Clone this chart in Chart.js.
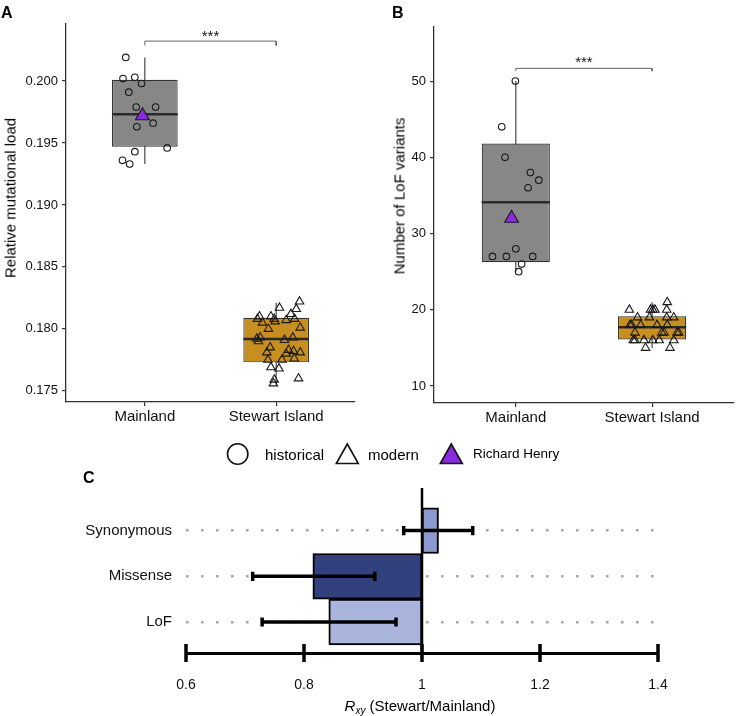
<!DOCTYPE html>
<html><head><meta charset="utf-8">
<script src="https://cdn.jsdelivr.net/npm/chart.js@4.4.1/dist/chart.umd.min.js"></script>
<style>
html,body{margin:0;padding:0;background:#fff;}
body{width:743px;height:716px;position:relative;overflow:hidden;font-family:"Liberation Sans",Arial,Helvetica,sans-serif;color:#111;}
canvas{position:absolute;}
.lbl{position:absolute;font-weight:bold;font-size:16px;line-height:16px;color:#000;}
.ytitle{position:absolute;font-size:15px;line-height:15px;white-space:nowrap;transform:translate(-50%,-50%) rotate(-90deg);color:#000;}
.leg{position:absolute;font-size:15px;line-height:15px;white-space:nowrap;color:#000;}
svg{position:absolute;overflow:visible;}
</style></head><body>
<canvas id="cA" width="370" height="440" style="left:0;top:0"></canvas>
<canvas id="cB" width="373" height="440" style="left:370px;top:0"></canvas>
<canvas id="cC" width="743" height="236" style="left:0;top:480px"></canvas>

<div class="lbl" style="left:1px;top:5px">A</div>
<div class="lbl" style="left:392px;top:5px">B</div>
<div class="lbl" style="left:83px;top:470px">C</div>
<div class="ytitle" style="left:10px;top:198px">Relative mutational load</div>
<div class="ytitle" style="left:399px;top:196px">Number of LoF variants</div>

<svg style="left:226px;top:443px" width="24" height="24"><circle cx="11.7" cy="11" r="10.2" fill="none" stroke="#111" stroke-width="1.6"/></svg>
<div class="leg" style="left:265px;top:447px">historical</div>
<svg style="left:336px;top:443px" width="24" height="24"><polygon points="11.3,1 22.3,20.5 0.3,20.5" fill="none" stroke="#111" stroke-width="1.6" stroke-linejoin="miter"/></svg>
<div class="leg" style="left:368px;top:447px">modern</div>
<svg style="left:440px;top:443px" width="24" height="24"><polygon points="11.3,1 22.3,20.5 0.3,20.5" fill="#8A2BE2" stroke="#111" stroke-width="1.6" stroke-linejoin="miter"/></svg>
<div class="leg" style="left:473px;top:447px;font-size:13.5px;line-height:13.5px">Richard Henry</div>

<div style="position:absolute;left:420px;top:698px;transform:translateX(-50%);font-size:15px;line-height:15px;white-space:nowrap;color:#000"><i>R</i><sub style="font-size:10px;vertical-align:-3px;line-height:0"><i>xy</i></sub> (Stewart/Mainland)</div>

<script>
// ---------- DATA ----------
const groups = ['Mainland', 'Stewart Island'];

// Panel A: relative mutational load
const loadMainland = [0.2019, 0.2002, 0.2003, 0.1998, 0.1991, 0.1979, 0.1979, 0.1966, 0.1963, 0.1943, 0.1946, 0.1936, 0.1933];
const loadMainlandJitter = [-0.145, -0.166, -0.076, -0.025, -0.122, -0.066, 0.082, 0.063, -0.061, -0.076, 0.170, -0.170, -0.115];
const loadStewart = [0.1822, 0.1816, 0.1817, 0.1812, 0.1810, 0.1810, 0.1808, 0.1808, 0.1807, 0.1808, 0.1806, 0.1805, 0.1801, 0.1800,
  0.1793, 0.1792, 0.1790, 0.1793, 0.1791, 0.1785, 0.1781, 0.1783, 0.1782, 0.1781, 0.1780, 0.1776, 0.1775, 0.1775, 0.1769, 0.1768,
  0.1760, 0.1759, 0.1756];
const loadStewartJitter = [0.178, 0.153, 0.025, 0.112, -0.127, -0.040, -0.143, -0.015, 0.076, 0.140, -0.008, -0.105, 0.183, -0.059,
  -0.122, -0.147, -0.135, 0.127, 0.063, -0.046, -0.071, 0.094, 0.132, 0.183, 0.076, 0.137, 0.044, -0.063, -0.040, 0.021,
  0.170, -0.015, -0.021];
const loadRichardHenry = [0.1972];
const loadRichardHenryJitter = [-0.018];
// box stats per group: [lower whisker, Q1, median, Q3, upper whisker]
const loadBoxStats = [[0.1933, 0.1947, 0.19732, 0.2001, 0.2019], [0.1755, 0.1773, 0.17918, 0.1809, 0.1821]];
const loadBracket = [0.20322, 0.20287];
const loadRange = [0.1741, 0.2046];
const loadTicks = [0.175, 0.180, 0.185, 0.190, 0.195, 0.200];

// Panel B: number of LoF variants
const lofMainland = [50, 44, 40, 38, 37, 36, 28, 27, 27, 27, 26, 25];
const lofMainlandJitter = [-0.003, -0.103, -0.079, 0.107, 0.169, 0.090, 0.000, -0.171, -0.069, 0.124, 0.043, 0.021];
const lofStewart = [21, 20, 20, 20, 20, 20, 19, 19, 19, 19, 18, 18, 18, 18, 18, 17, 17, 17, 17, 17, 16, 16, 16, 16, 16, 16, 15, 15];
const lofStewartJitter = [0.111, -0.167, -0.012, 0.005, 0.021, 0.107, -0.107, -0.019, 0.107, 0.159, -0.162, -0.150, -0.084, 0.036, 0.111,
  -0.126, 0.071, 0.088, 0.183, 0.195, -0.138, -0.126, -0.060, 0.005, 0.052, 0.159, -0.048, 0.131];
const lofRichardHenry = [32];
const lofRichardHenryJitter = [-0.031];
const lofBoxStats = [[25, 26.25, 34.1, 41.8, 50], [15, 16.1, 17.7, 19.16, 21]];
const lofBracket = [51.67, 51.31];
const lofRange = [7.77, 57.1];
const lofTicks = [10, 20, 30, 40, 50];

const sigLabel = '***';

// Panel C: Rxy (Stewart/Mainland), bottom to top
const classes = ['LoF', 'Missense', 'Synonymous'];
const rxy = [0.842, 0.815, 1.028];
const rxyLow = [0.729, 0.713, 0.969];
const rxyHigh = [0.956, 0.920, 1.086];
const rxyRange = [0.6, 1.4];
const rxyTicks = [0.6, 0.8, 1, 1.2, 1.4];
const rxyTickLabels = ['0.6', '0.8', '1', '1.2', '1.4'];
const rxyReference = 1;
const classAxisRange = [0.323, 3.932];

// ---------- STYLE ----------
const FONT = '"Liberation Sans", Arial, Helvetica, sans-serif';
Chart.defaults.font.family = FONT;
Chart.defaults.color = '#111';
const BOX_FILLS = ['#878787', '#C68F1F'];
const CLASS_COLORS = ['#AAB5DD', '#33407E', '#8D99D1'];
const PURPLE = '#8A2BE2';
const BOX_HALF = 0.25;
const CAP_HALF = 0.1;

const sigText = {
  id: 'sigText',
  afterDatasetsDraw(chart, args, o) {
    const { ctx, scales: { x, y } } = chart;
    ctx.save();
    ctx.font = '15px ' + FONT;
    ctx.fillStyle = '#111';
    ctx.textAlign = 'center';
    ctx.textBaseline = 'alphabetic';
    ctx.fillText(o.text, x.getPixelForValue(1.5), y.getPixelForValue(o.y) + o.dy);
    ctx.restore();
  }
};

function boxDatasets(stats) {
  const ds = [{
    type: 'bar',
    data: stats.map((s, i) => ({ x: i + 1, y: [s[1], s[3]] })),
    backgroundColor: BOX_FILLS, borderColor: '#333', borderWidth: 1.2, borderSkipped: false,
    categoryPercentage: 1, barPercentage: 0.5, order: 9
  }];
  stats.forEach((s, i) => {
    ds.push({ type: 'line', data: [{ x: i + 1, y: s[0] }, { x: i + 1, y: s[4] }],
      borderColor: '#555', borderWidth: 1.3, pointRadius: 0, order: 10 });
    ds.push({ type: 'line', data: [{ x: i + 1 - BOX_HALF, y: s[2] }, { x: i + 1 + BOX_HALF, y: s[2] }],
      borderColor: '#2a2a2a', borderWidth: 2.6, pointRadius: 0, order: 8 });
  });
  return ds;
}
function pointSet(values, jitter, group, style, radius, fill, order) {
  return {
    type: 'scatter', data: values.map((v, i) => ({ x: group + jitter[i], y: v })),
    pointStyle: style, pointRadius: radius, pointHoverRadius: radius,
    pointBorderColor: '#1a1a1a', borderColor: '#1a1a1a', pointBorderWidth: 1.1,
    pointBackgroundColor: fill, backgroundColor: fill, showLine: false, order: order
  };
}
function bracketSet(b) {
  return { type: 'line', data: [{ x: 1, y: b[1] }, { x: 1, y: b[0] }, { x: 2, y: b[0] }, { x: 2, y: b[1] }],
    borderColor: '#666', borderWidth: 1, pointRadius: 0, order: 7 };
}
function panel(canvasId, d) {
  return new Chart(document.getElementById(canvasId), {
    type: 'scatter',
    data: {
      datasets: [
        ...boxDatasets(d.stats),
        bracketSet(d.bracket),
        pointSet(d.main, d.mainJ, 1, 'circle', 3.3, 'rgba(0,0,0,0)', 3),
        pointSet(d.stew, d.stewJ, 2, 'triangle', 4.9, 'rgba(0,0,0,0)', 2),
        pointSet(d.rh, d.rhJ, 1, 'triangle', 8, PURPLE, 1)
      ]
    },
    options: {
      responsive: false, animation: false, events: [],
      layout: { padding: d.pad },
      plugins: { legend: { display: false }, tooltip: { enabled: false }, sigText: { text: sigLabel, y: d.bracket[0], dy: d.sigDy } },
      scales: {
        x: {
          type: 'linear', min: 0.4, max: 2.6, offset: false,
          afterBuildTicks: s => { s.ticks = [{ value: 1 }, { value: 2 }]; },
          afterFit: s => { s.height = d.xh; },
          ticks: { callback: v => groups[Math.round(v) - 1], font: { size: 15 }, color: '#111', padding: 2, maxRotation: 0 },
          grid: { offset: false, drawOnChartArea: false, tickLength: 4, color: '#333', lineWidth: 1.2 },
          border: { color: '#333', width: 1.3 }
        },
        y: {
          type: 'linear', min: d.range[0], max: d.range[1], offset: false, beginAtZero: false,
          afterBuildTicks: s => { s.ticks = d.ticks.map(v => ({ value: v })); },
          afterFit: s => { s.width = d.yw; },
          ticks: { callback: d.fmt, font: { size: 13 }, color: '#111', padding: 4 },
          grid: { offset: false, drawOnChartArea: false, tickLength: 4, color: '#333', lineWidth: 1.2 },
          border: { color: '#333', width: 1.3 }
        }
      }
    },
    plugins: [sigText]
  });
}

panel('cA', {
  stats: loadBoxStats, bracket: loadBracket, main: loadMainland, mainJ: loadMainlandJitter,
  stew: loadStewart, stewJ: loadStewartJitter, rh: loadRichardHenry, rhJ: loadRichardHenryJitter,
  range: loadRange, ticks: loadTicks, fmt: v => v.toFixed(3), sigDy: 0,
  pad: { top: 24, right: 15, left: 0, bottom: 0 }, xh: 38, yw: 66
});
panel('cB', {
  stats: lofBoxStats, bracket: lofBracket, main: lofMainland, mainJ: lofMainlandJitter,
  stew: lofStewart, stewJ: lofStewartJitter, rh: lofRichardHenry, rhJ: lofRichardHenryJitter,
  range: lofRange, ticks: lofTicks, fmt: v => String(v), sigDy: -1,
  pad: { top: 27, right: 1, left: 0, bottom: 0 }, xh: 37, yw: 64
});

// Panel C
const bothSideTicks = {
  id: 'bothSideTicks',
  afterDraw(chart, args, o) {
    const s = chart.scales.x, ctx = chart.ctx;
    ctx.save();
    ctx.strokeStyle = '#000'; ctx.lineWidth = o.width; ctx.lineCap = 'butt';
    ctx.beginPath();
    s.ticks.forEach(t => { const px = s.getPixelForValue(t.value); ctx.moveTo(px, s.top - o.len); ctx.lineTo(px, s.top + o.len); });
    ctx.stroke();
    ctx.restore();
  }
};
const errorSets = classes.map((c, i) => {
  const r = i + 1;
  return {
    type: 'line',
    data: [{ x: rxyLow[i], y: r - CAP_HALF }, { x: rxyLow[i], y: r + CAP_HALF }, { x: rxyLow[i], y: r },
           { x: rxyHigh[i], y: r }, { x: rxyHigh[i], y: r + CAP_HALF }, { x: rxyHigh[i], y: r - CAP_HALF }],
    borderColor: '#000', borderWidth: 3.5, pointRadius: 0, borderJoinStyle: 'miter', borderCapStyle: 'butt', order: 1
  };
});
new Chart(document.getElementById('cC'), {
  type: 'bar',
  data: {
    datasets: [
      ...errorSets,
      { type: 'line', data: [{ x: rxyReference, y: classAxisRange[0] }, { x: rxyReference, y: classAxisRange[1] }],
        borderColor: '#000', borderWidth: 2.5, pointRadius: 0, order: 3 },
      { type: 'bar', data: classes.map((c, i) => ({ y: i + 1, x: [rxyReference, rxy[i]] })),
        backgroundColor: CLASS_COLORS, borderColor: '#000', borderWidth: 2, borderSkipped: false,
        categoryPercentage: 1, barPercentage: 1, order: 5 }
    ]
  },
  options: {
    indexAxis: 'y', responsive: false, animation: false, events: [],
    layout: { padding: { top: 8, right: 85, left: 0, bottom: 0 } },
    plugins: { legend: { display: false }, tooltip: { enabled: false }, bothSideTicks: { len: 9, width: 3.5 } },
    scales: {
      x: {
        type: 'linear', position: 'bottom', min: rxyRange[0], max: rxyRange[1], offset: false, beginAtZero: false,
        afterBuildTicks: s => { s.ticks = rxyTicks.map(v => ({ value: v })); },
        afterFit: s => { s.height = 63; s.paddingLeft = 0; s.paddingRight = 0; },
        ticks: { callback: (v, i) => rxyTickLabels[i], font: { size: 14 }, color: '#111', padding: 24, maxRotation: 0 },
        grid: { display: false, drawTicks: false, offset: false },
        border: { display: true, color: '#000', width: 3 }
      },
      y: {
        type: 'linear', min: classAxisRange[0], max: classAxisRange[1], offset: false,
        afterBuildTicks: s => { s.ticks = classes.map((c, i) => ({ value: i + 1 })); },
        afterFit: s => { s.width = 186; s.paddingTop = 0; s.paddingBottom = 0; },
        ticks: { callback: (v, i) => classes[i], font: { size: 15 }, color: '#111', padding: 14 },
        grid: { display: true, drawTicks: false, offset: false, color: '#a6a6a6', lineWidth: 2.6 },
        border: { display: false, dash: [2.6, 12.4] }
      }
    }
  },
  plugins: [bothSideTicks]
});
</script>
</body></html>
